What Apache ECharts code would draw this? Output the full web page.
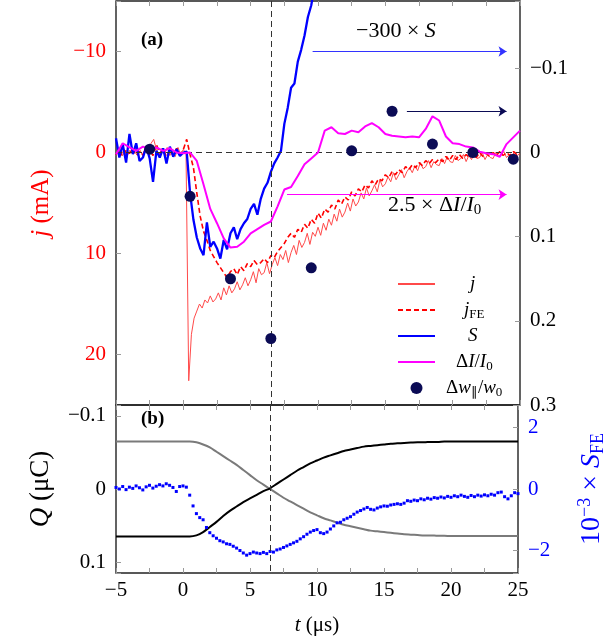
<!DOCTYPE html>
<html><head><meta charset="utf-8">
<script src="https://cdn.jsdelivr.net/npm/echarts@6/dist/echarts.min.js"></script>
<style>html,body{margin:0;padding:0;background:#fff}#c{width:615px;height:644px}</style>
</head><body><div id="c"></div>
<script>
// ---------------- data ----------------
const X_MIN = -5, X_MAX = 25;
// j (mA), sampled every 0.2 us from t=-5
const J_T0 = -5, J_DT = 0.2;
const J_VALUES = [
 0.3,-0.4,0.2,-0.3,0.5,-0.2,0.1,-0.5,0.3,-0.2,
 0.4,-0.6,0.1,-0.9,-1.3,-0.3,0.4,-0.4,0.2,-0.5,
 0.3,-0.3,0.4,-0.5,0.2,-0.3,0.1,22.6,18.0,16.4,
 15.7,15.0,15.4,14.6,14.9,14.2,14.8,14.5,13.9,14.6,
 13.4,14.1,13.2,13.9,13.5,12.8,13.6,13.1,12.4,13.2,
 12.6,11.8,12.9,11.5,12.1,11.9,10.9,12.0,11.1,10.4,
 11.2,10.1,10.6,9.7,10.9,9.9,9.2,10.1,8.7,9.4,
 8.9,8.0,9.1,7.9,8.3,7.4,8.2,7.0,7.7,6.6,
 7.2,6.1,6.8,5.6,6.4,5.9,5.0,5.8,4.6,5.3,
 4.9,4.0,4.6,3.5,4.3,3.8,3.2,3.9,2.7,3.4,
 3.1,2.4,2.9,2.0,2.7,2.2,1.7,2.5,1.9,1.5,
 2.0,1.3,1.8,1.0,1.6,1.4,0.8,1.5,0.9,1.2,
 1.3,0.6,1.1,0.4,0.9,1.0,0.3,0.8,0.6,0.2,
 0.9,0.3,0.7,0.1,0.6,0.5,0.0,0.7,0.2,0.5,
 0.6,0.0,0.4,0.3,-0.1,0.5,0.2,0.4,-0.1,0.3,
 0.1
];
// j_FE (mA), every 0.25 us from t=-5
const JFE_T0 = -5, JFE_DT = 0.25;
const JFE_VALUES = [
 0.2,-0.3,0.4,-0.2,0.1,-0.4,0.3,-0.1,
 0.2,-0.5,-0.2,0.3,-0.8,0.1,-0.3,0.4,
 -0.2,0.3,-0.4,0.2,-0.3,-1.3,0.2,1.5,
 4.0,6.3,7.8,8.7,9.7,10.3,10.9,11.4,
 11.9,12.4,11.8,11.5,12.1,11.3,11.7,11.0,
 11.3,10.7,11.1,10.9,10.5,10.9,10.2,10.4,
 9.8,9.4,9.0,8.4,8.0,8.4,7.6,7.9,
 7.1,7.5,6.6,7.0,6.0,6.5,5.6,5.9,
 5.2,5.6,4.7,5.1,4.4,4.7,3.9,4.3,
 3.6,3.9,3.2,3.5,2.8,3.2,2.6,2.8,
 2.2,2.5,1.9,2.2,1.7,2.0,1.4,1.7,
 1.2,1.5,1.0,1.3,0.8,1.1,0.7,1.0,
 0.6,0.9,0.4,0.8,0.3,0.7,0.2,0.6,
 0.2,0.5,0.1,0.5,0.0,0.4,0.1,0.4,
 0.0,0.3,-0.1,0.3,0.0,0.3,-0.1,0.2,
 0.1
];
// -300 x S (right axis), every 0.25 us from t=-5
const S_T0 = -5, S_DT = 0.25;
const S_VALUES = [
 -0.017,0.006,-0.010,0.012,-0.022,0.002,-0.011,0.010,
 0.006,-0.007,0.007,0.035,-0.002,0.006,-0.005,0.013,
 -0.007,0.005,-0.004,0.004,0,-0.001,0.048,0.080,
 0.101,0.114,0.122,0.083,0.112,0.106,0.114,0.126,
 0.104,0.115,0.096,0.089,0.103,0.091,0.084,0.079,
 0.067,0.061,0.074,0.055,0.043,0.036,0.023,0.013,
 0.006,-0.002,-0.034,-0.053,-0.077,-0.082,-0.108,-0.122,
 -0.139,-0.161,-0.175,-0.198
];
// 2.5 x dI/I0 (right axis), every 0.5 us from t=-5
const DI_T0 = -5, DI_DT = 0.5;
const DI_VALUES = [
 0.002,-0.011,-0.006,-0.002,-0.007,-0.004,-0.006,-0.002,-0.005,0,
 0.001,0,0.010,0.038,0.067,0.084,0.102,0.113,0.112,0.106,
 0.096,0.091,0.086,0.082,0.064,0.044,0.041,0.028,0.014,0.007,
 0,-0.026,-0.030,-0.023,-0.022,-0.026,-0.024,-0.031,-0.035,-0.030,
 -0.022,-0.020,-0.019,-0.018,-0.019,-0.018,-0.028,-0.043,-0.038,-0.019,
 -0.011,-0.010,-0.007,-0.006,-0.001,0.001,0.002,0.005,-0.010,-0.018,
 -0.026
];
// dw_par / w0 (right axis)
const DW_T = [-2.5,0.5,3.5,6.5,9.5,12.5,15.5,18.5,21.5,24.5];
const DW_VALUES = [-0.004,0.052,0.150,0.221,0.137,-0.002,-0.049,-0.010,0.0,0.008];
// Q (uC), every 0.5 us from t=-5
const Q_T0 = -5, Q_DT = 0.5;
const Q_BLACK = [
 0.065,0.065,0.065,0.065,0.065,0.065,0.065,0.065,0.065,0.065,0.065,0.065,
 0.0635,0.059,0.052,0.045,0.037,0.030,0.024,0.018,0.013,0.008,0.003,-0.001,
 -0.007,-0.013,-0.019,-0.025,-0.030,-0.035,-0.039,-0.043,-0.046,-0.049,-0.052,-0.054,
 -0.056,-0.058,-0.059,-0.060,-0.061,-0.062,-0.0625,-0.063,-0.0635,-0.064,-0.064,-0.0645,
 -0.0645,-0.065,-0.065,-0.065,-0.065,-0.065,-0.065,-0.065,-0.065,-0.065,-0.065,-0.065,-0.065
];
const Q_GRAY = [
 -0.065,-0.065,-0.065,-0.065,-0.065,-0.065,-0.065,-0.065,-0.065,-0.065,-0.065,-0.065,
 -0.064,-0.061,-0.057,-0.051,-0.045,-0.039,-0.033,-0.026,-0.019,-0.012,-0.006,0.000,
 0.006,0.012,0.017,0.022,0.027,0.032,0.036,0.040,0.043,0.046,0.049,0.051,
 0.053,0.055,0.057,0.058,0.059,0.060,0.061,0.062,0.0625,0.063,0.0635,0.0635,
 0.064,0.064,0.0645,0.0645,0.0645,0.0645,0.0645,0.0645,0.0645,0.0645,0.0645,0.0645,0.0645
];
// 1e-3 x S_FE, every 0.25 us from t=-5
const SFE_T0 = -5, SFE_DT = 0.25;
const SFE_VALUES = [
 0.05,0.0,0.08,-0.02,0.06,0.02,0.1,0.04,
 -0.03,0.07,0.12,0.03,0.09,0.14,0.1,0.17,
 0.12,0.05,-0.08,0.08,0.1,0.06,-0.2,-0.55,
 -0.8,-0.93,-1.0,-1.25,-1.42,-1.52,-1.6,-1.68,
 -1.72,-1.78,-1.8,-1.86,-1.92,-2.0,-2.08,-2.15,
 -2.1,-2.05,-2.08,-2.1,-2.06,-2.1,-2.03,-2.05,
 -1.98,-1.95,-1.9,-1.85,-1.8,-1.75,-1.7,-1.62,
 -1.55,-1.47,-1.4,-1.35,-1.32,-1.42,-1.45,-1.4,
 -1.3,-1.2,-1.1,-1.08,-1.0,-0.95,-0.9,-0.82,
 -0.75,-0.7,-0.65,-0.6,-0.66,-0.68,-0.62,-0.58,
 -0.55,-0.56,-0.52,-0.5,-0.48,-0.5,-0.46,-0.38,
 -0.4,-0.36,-0.38,-0.32,-0.35,-0.3,-0.33,-0.28,
 -0.3,-0.26,-0.29,-0.24,-0.27,-0.22,-0.25,-0.2,
 -0.24,-0.27,-0.21,-0.25,-0.2,-0.23,-0.19,-0.22,
 -0.17,-0.2,-0.12,-0.1,-0.25,-0.32,-0.22,-0.12,
 -0.15
];
const T_MARK = 6.5;

// ---------------- helpers ----------------
const grid = (t0, dt, vals) => vals.map((v, i) => [+(t0 + i * dt).toFixed(3), v]);
const FONT = 'Liberation Serif';
const fmtStep = (step, dec) => v => {
  const k = v / step;
  if (Math.abs(k - Math.round(k)) > 1e-6) return '';
  const r = Math.round(k) * step;
  return r === 0 ? '0' : (r < 0 ? '−' : '') + Math.abs(r).toFixed(dec);
};
const RICH = {
  i: {fontStyle: 'italic', fontFamily: FONT},
  sub: {fontSize: 13, fontFamily: FONT, padding: [9, 0, 0, 0]},
  sup: {fontSize: 14, fontFamily: FONT, padding: [0, 0, 10, 0]}
};
const tickStyle = {show: true, inside: true, length: 5, lineStyle: {color: '#9a9a9a', width: 1}};
const minorStyle = {show: true, splitNumber: 2, length: 5, lineStyle: {color: '#9a9a9a', width: 1}};
const noLine = {show: false, onZero: false};
const dashLine = {color: '#333', width: 1, type: [6, 4]};

const chart = echarts.init(document.getElementById('c'), null, {renderer: 'canvas'});

const xBase = (gridIndex, position, showLabel) => ({
  type: 'value', gridIndex, position, min: X_MIN, max: X_MAX, interval: 5,
  axisLine: noLine, splitLine: {show: false},
  axisTick: tickStyle, minorTick: minorStyle,
  axisLabel: {show: showLabel, fontFamily: FONT, fontSize: 21, color: '#000', margin: 7,
    formatter: v => (v < 0 ? '−' : '') + Math.abs(v)}
});

const legendLine = name => ({name, itemStyle: {opacity: 0}});

const option = {
  backgroundColor: '#fff',
  animation: false,
  textStyle: {fontFamily: FONT},
  grid: [
    {left: 116, right: 95, top: 1, height: 404, show: true, borderColor: '#222', borderWidth: 1.4, backgroundColor: 'transparent'},
    {left: 116, right: 95, top: 405, height: 168, show: true, borderColor: '#222', borderWidth: 1.4, backgroundColor: 'transparent'}
  ],
  xAxis: [
    xBase(0, 'bottom', false),
    xBase(0, 'top', false),
    Object.assign(xBase(1, 'bottom', true), {
      name: '{i|t} (μs)', nameLocation: 'middle', nameGap: 42,
      nameTextStyle: {fontFamily: FONT, fontSize: 21, color: '#000', rich: RICH}
    }),
    xBase(1, 'top', false)
  ],
  yAxis: [
    {type: 'value', gridIndex: 0, position: 'left', inverse: true, min: -15, max: 25, splitNumber: 4,
      axisLine: noLine, splitLine: {show: false}, axisTick: tickStyle,
      axisLabel: {fontFamily: FONT, fontSize: 21, color: '#ff0000', margin: 10, formatter: fmtStep(10, 0)},
      name: '{i|j} (mA)', nameLocation: 'middle', nameGap: 62, nameRotate: 90,
      nameTextStyle: {fontFamily: FONT, fontSize: 25, color: '#ff0000', rich: {i: {fontStyle: 'italic', fontSize: 25, color: '#ff0000', fontFamily: FONT}}}},
    {type: 'value', gridIndex: 0, position: 'right', inverse: true, min: -0.18, max: 0.3, splitNumber: 5,
      axisLine: noLine, splitLine: {show: false}, axisTick: tickStyle,
      axisLabel: {fontFamily: FONT, fontSize: 21, color: '#000', margin: 10, formatter: fmtStep(0.1, 1)}},
    {type: 'value', gridIndex: 1, position: 'left', inverse: true, min: -0.115, max: 0.115, splitNumber: 2,
      axisLine: noLine, splitLine: {show: false}, axisTick: tickStyle,
      axisLabel: {fontFamily: FONT, fontSize: 21, color: '#000', margin: 10, formatter: fmtStep(0.1, 1)},
      name: '{i|Q} (μC)', nameLocation: 'middle', nameGap: 62, nameRotate: 90,
      nameTextStyle: {fontFamily: FONT, fontSize: 27, color: '#000', rich: {i: {fontStyle: 'italic', fontSize: 27, fontFamily: FONT}}}},
    {type: 'value', gridIndex: 1, position: 'right', min: -2.73, max: 2.73, splitNumber: 3,
      axisLine: noLine, splitLine: {show: false}, axisTick: tickStyle,
      axisLabel: {fontFamily: FONT, fontSize: 21, color: '#0000ff', margin: 10, formatter: fmtStep(2, 0)},
      name: '10{sup|−3} × {i|S}{sub|FE}', nameLocation: 'middle', nameGap: 58, nameRotate: 90,
      nameTextStyle: {fontFamily: FONT, fontSize: 28, color: '#0000ff', rich: {
        i: {fontStyle: 'italic', fontSize: 28, color: '#0000ff', fontFamily: FONT},
        sub: {fontSize: 18, color: '#0000ff', fontFamily: FONT, padding: [12, 0, 0, 0]},
        sup: {fontSize: 18, color: '#0000ff', fontFamily: FONT, padding: [0, 0, 14, 0]}}}}
  ],
  legend: {
    orient: 'vertical', left: 392, top: 268, itemWidth: 37, itemHeight: 12, itemGap: 4,
    data: [legendLine('j'), legendLine('jFE'), legendLine('S'), legendLine('dI'), {name: 'dw'}],
    textStyle: {fontFamily: FONT, fontSize: 19, color: '#000', lineHeight: 22, rich: Object.assign({
      p1: {width: 30}, p2: {width: 24}, p3: {width: 28}, p4: {width: 16}, p5: {width: 6}}, RICH)},
    formatter: n => ({
      j: '{p1|}{i|j}',
      jFE: '{p2|}{i|j}{sub|FE}',
      S: '{p3|}{i|S}',
      dI: '{p4|}Δ{i|I}/{i|I}{sub|0}',
      dw: '{p5|}Δ{i|w}{sub|∥}/{i|w}{sub|0}'
    })[n]
  },
  series: [
    {name: 'j', type: 'line', xAxisIndex: 0, yAxisIndex: 0, data: grid(J_T0, J_DT, J_VALUES),
      symbol: 'none', lineStyle: {color: '#ff4a4a', width: 1}, itemStyle: {color: '#ff4a4a'}, z: 2,
      markLine: {silent: true, symbol: 'none', label: {show: false}, lineStyle: dashLine,
        data: [{xAxis: T_MARK}, {yAxis: 0}]}},
    {name: 'jFE', type: 'line', xAxisIndex: 0, yAxisIndex: 0, data: grid(JFE_T0, JFE_DT, JFE_VALUES),
      symbol: 'none', lineStyle: {color: '#ff0000', width: 1.6, type: [5, 3]}, itemStyle: {color: '#ff0000'}, z: 3},
    {name: 'S', type: 'line', xAxisIndex: 0, yAxisIndex: 1, data: grid(S_T0, S_DT, S_VALUES),
      symbol: 'none', lineStyle: {color: '#0000ff', width: 2.3}, itemStyle: {color: '#0000ff'}, z: 4, clip: true,
      markLine: {silent: true, symbol: ['none', 'arrow'], symbolSize: 8, label: {show: false},
        lineStyle: {color: '#3333ff', width: 1, type: 'solid'},
        data: [[{coord: [9.6, -0.12]}, {coord: [24, -0.12]}]]}},
    {name: 'dI', type: 'line', xAxisIndex: 0, yAxisIndex: 1, data: grid(DI_T0, DI_DT, DI_VALUES),
      symbol: 'none', lineStyle: {color: '#ff00ff', width: 2}, itemStyle: {color: '#ff00ff'}, z: 5,
      markLine: {silent: true, symbol: ['none', 'arrow'], symbolSize: 8, label: {show: false},
        lineStyle: {color: '#ff00ff', width: 1, type: 'solid'},
        data: [[{coord: [7.7, 0.05]}, {coord: [24, 0.05]}]]}},
    {name: 'dw', type: 'scatter', xAxisIndex: 0, yAxisIndex: 1, data: DW_T.map((t, i) => [t, DW_VALUES[i]]),
      symbol: 'circle', symbolSize: 11, itemStyle: {color: '#0b0b55', opacity: 1}, z: 6,
      markLine: {silent: true, symbol: ['none', 'arrow'], symbolSize: 8, label: {show: false},
        lineStyle: {color: '#0b0b55', width: 1, type: 'solid'},
        data: [[{coord: [16.6, -0.049]}, {coord: [24, -0.049]}]]}},
    {name: 'Qgray', type: 'line', xAxisIndex: 2, yAxisIndex: 2, data: grid(Q_T0, Q_DT, Q_GRAY),
      symbol: 'none', smooth: 0.3, lineStyle: {color: '#7a7a7a', width: 2}, z: 2,
      markLine: {silent: true, symbol: 'none', label: {show: false}, lineStyle: dashLine, data: [{xAxis: T_MARK}]}},
    {name: 'Qblack', type: 'line', xAxisIndex: 2, yAxisIndex: 2, data: grid(Q_T0, Q_DT, Q_BLACK),
      symbol: 'none', smooth: 0.3, lineStyle: {color: '#000', width: 2}, z: 3},
    {name: 'SFE', type: 'scatter', xAxisIndex: 2, yAxisIndex: 3, data: grid(SFE_T0, SFE_DT, SFE_VALUES),
      symbol: 'rect', symbolSize: 3, itemStyle: {color: '#0000ff', opacity: 1}, z: 4}
  ],
  graphic: [
    {type: 'text', left: 141, top: 31, style: {text: '(a)', font: 'bold 19px "Liberation Serif"', fill: '#000'}},
    {type: 'text', left: 141, top: 410, style: {text: '(b)', font: 'bold 19px "Liberation Serif"', fill: '#000'}},
    {type: 'text', left: 356, top: 20, style: {text: '−300 × {i|S}', font: '22px "Liberation Serif"', fill: '#000',
      rich: {i: {fontStyle: 'italic', fontSize: 22, fontFamily: FONT}}}},
    {type: 'text', left: 388, top: 194, style: {text: '2.5 × Δ{i|I}/{i|I}{sub|0}', font: '22px "Liberation Serif"', fill: '#000',
      rich: {i: {fontStyle: 'italic', fontSize: 22, fontFamily: FONT}, sub: {fontSize: 15, fontFamily: FONT, padding: [10, 0, 0, 0]}}}}
  ]
};
chart.setOption(option);
</script>
</body></html>
